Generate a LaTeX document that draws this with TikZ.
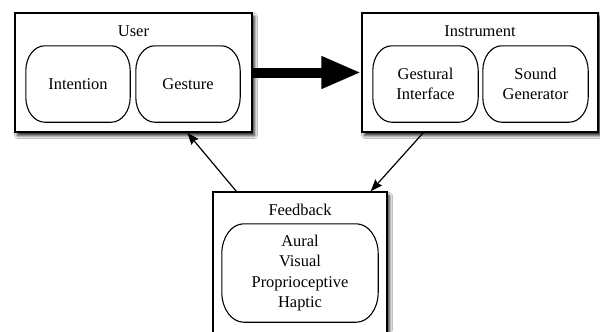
\documentclass[tikz,border=0pt]{standalone}
\usepackage{fontspec}
\setmainfont{Liberation Serif}
\usetikzlibrary{arrows.meta,shadows.blur,calc}
\newcommand\pillshape[3]{%
  \draw[line width=1.1bp] let \p1=(#1.north west), \p2=(#1.south east) in
    (\x1+#2pt,\y1) -- (\x2-#2pt,\y1)
    .. controls (\x2-0.448*#2pt,\y1) and (\x2,\y1-0.448*#3pt) .. (\x2,\y1-#3pt)
    -- (\x2,\y2+#3pt)
    .. controls (\x2,\y2+0.448*#3pt) and (\x2-0.448*#2pt,\y2) .. (\x2-#2pt,\y2)
    -- (\x1+#2pt,\y2)
    .. controls (\x1+0.448*#2pt,\y2) and (\x1,\y2+0.448*#3pt) .. (\x1,\y2+#3pt)
    -- (\x1,\y1-#3pt)
    .. controls (\x1,\y1-0.448*#3pt) and (\x1+0.448*#2pt,\y1) .. cycle;}
\begin{document}
\begin{tikzpicture}[x=1bp,y=-1bp,
  box/.style={draw, line width=1.4bp, fill=white, inner sep=0,
    blur shadow={shadow xshift=2.5bp, shadow yshift=-3.5bp, shadow blur steps=6, shadow blur radius=3bp, shadow opacity=90}},
  pill/.style={align=center, inner sep=0, font=\fontsize{16.5}{20.7}\selectfont},
  lbl/.style={font=\fontsize{16.5}{20.7}\selectfont, inner sep=0},
  thin/.style={line width=1.2bp, -{Stealth[length=12bp,width=9bp,inset=1.5bp]}},
]
\clip (0,0) rectangle (600,331);
\fill[white] (0,0) rectangle (600,331);
% boxes
\node[box, minimum width=237bp, minimum height=119bp] (user) at (133.5,72.5) {};
\node[box, minimum width=236bp, minimum height=119bp] (instr) at (480,72.5) {};
\node[box, minimum width=174bp, minimum height=153bp] (fb) at (300,268.5) {};
% labels
\node[lbl] (userlbl) at (133.5,31) {User};
\node[lbl] (instrlbl) at (480,31) {Instrument};
\node[lbl] (fblbl) at (300,210) {Feedback};
% pills
\node[pill, minimum width=104bp, minimum height=76bp] (intent) at (78,84) {Intention};
\node[pill, minimum width=104bp, minimum height=76bp] (gest) at (188,84) {Gesture};
\node[pill, minimum width=105bp, minimum height=76bp] (gi) at (425.5,84) {Gestural\\Interface};
\node[pill, minimum width=105bp, minimum height=76bp] (sg) at (535.5,84) {Sound\\Generator};
\node[pill, minimum width=156bp, minimum height=98bp] (fbp) at (300,273) {Aural\\Visual\\Proprioceptive\\Haptic};
\pillshape{intent}{19}{25}
\pillshape{gest}{19}{25}
\pillshape{gi}{19}{25}
\pillshape{sg}{19}{25}
\pillshape{fbp}{22}{30}
% connectors
\draw[line width=10bp, -{Triangle[length=40bp,width=30bp]}] (user.east) -- (instr.west);
\draw[thin] ($(fb.north west)+(24,0)$) -- ($(user.south west)+(173,0)$);
\draw[thin] ($(instr.south west)+(62,0)$) -- ($(fb.north east)+(-17,0)$);
\end{tikzpicture}
\end{document}
